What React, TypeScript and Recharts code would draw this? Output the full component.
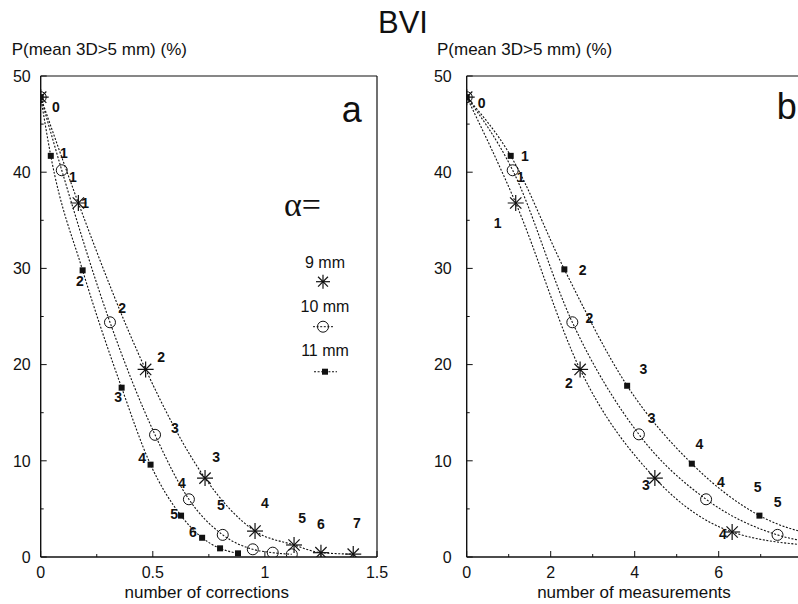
import React from 'react';
import { ComposedChart, Line, XAxis, YAxis, ReferenceLine } from 'recharts';

type Pt = { x: number; y: number };
type Lb = { x: number; y: number; t: string };

// ---------- panel a : number of corrections ----------
const corr9mm: Pt[] = [
  { x: 0, y: 47.8 }, { x: 0.168, y: 36.8 }, { x: 0.468, y: 19.5 }, { x: 0.733, y: 8.2 },
  { x: 0.956, y: 2.7 }, { x: 1.13, y: 1.25 }, { x: 1.25, y: 0.45 }, { x: 1.394, y: 0.3 },
];
const corr10mm: Pt[] = [
  { x: 0, y: 47.8 }, { x: 0.094, y: 40.2 }, { x: 0.309, y: 24.4 }, { x: 0.51, y: 12.7 },
  { x: 0.661, y: 6.0 }, { x: 0.812, y: 2.3 }, { x: 0.946, y: 0.8 }, { x: 1.035, y: 0.45 },
  { x: 1.12, y: 0.28 },
];
const corr11mm: Pt[] = [
  { x: 0, y: 47.8 }, { x: 0.045, y: 41.7 }, { x: 0.187, y: 29.8 }, { x: 0.361, y: 17.6 },
  { x: 0.49, y: 9.6 }, { x: 0.626, y: 4.3 }, { x: 0.72, y: 2.0 }, { x: 0.8, y: 0.9 },
  { x: 0.88, y: 0.38 },
];
const corrLabels: Lb[] = [
  { x: 0.068, y: 46.8, t: '0' },
  { x: 0.104, y: 42.0, t: '1' }, { x: 0.144, y: 39.5, t: '1' }, { x: 0.198, y: 36.8, t: '1' },
  { x: 0.175, y: 28.7, t: '2' }, { x: 0.363, y: 25.9, t: '2' }, { x: 0.537, y: 20.8, t: '2' },
  { x: 0.345, y: 16.6, t: '3' }, { x: 0.599, y: 13.4, t: '3' }, { x: 0.782, y: 10.4, t: '3' },
  { x: 0.452, y: 10.3, t: '4' }, { x: 0.63, y: 7.7, t: '4' }, { x: 1.0, y: 5.6, t: '4' },
  { x: 0.595, y: 4.5, t: '5' }, { x: 0.804, y: 5.4, t: '5' }, { x: 1.166, y: 4.05, t: '5' },
  { x: 0.679, y: 2.6, t: '6' }, { x: 1.25, y: 3.4, t: '6' },
  { x: 1.41, y: 3.5, t: '7' },
];
const corrTicks = [0, 0.25, 0.5, 0.75, 1, 1.25, 1.5];
const corrTickLabels = ['0', '', '0.5', '', '1', '', '1.5'];

// ---------- panel b : number of measurements ----------
const meas9mm: Pt[] = [
  { x: 0, y: 47.8 }, { x: 1.167, y: 36.8 }, { x: 2.7, y: 19.5 }, { x: 4.48, y: 8.2 },
  { x: 6.32, y: 2.6 }, { x: 8.2, y: 1.2 },
];
const meas10mm: Pt[] = [
  { x: 0, y: 47.8 }, { x: 1.095, y: 40.2 }, { x: 2.515, y: 24.4 }, { x: 4.1, y: 12.75 },
  { x: 5.7, y: 6.0 }, { x: 7.4, y: 2.3 }, { x: 9.0, y: 1.2 },
];
const meas11mm: Pt[] = [
  { x: 0, y: 47.8 }, { x: 1.048, y: 41.7 }, { x: 2.325, y: 29.9 }, { x: 3.82, y: 17.8 },
  { x: 5.36, y: 9.7 }, { x: 6.97, y: 4.3 }, { x: 8.6, y: 2.0 },
];
const measLabels: Lb[] = [
  { x: 0.357, y: 47.2, t: '0' },
  { x: 1.388, y: 41.7, t: '1' }, { x: 1.286, y: 39.5, t: '1' }, { x: 0.738, y: 34.7, t: '1' },
  { x: 2.762, y: 29.8, t: '2' }, { x: 2.919, y: 24.9, t: '2' }, { x: 2.436, y: 18.1, t: '2' },
  { x: 4.205, y: 19.5, t: '3' }, { x: 4.405, y: 14.5, t: '3' }, { x: 4.269, y: 7.5, t: '3' },
  { x: 5.538, y: 11.8, t: '4' }, { x: 6.055, y: 7.8, t: '4' }, { x: 6.102, y: 2.4, t: '4' },
  { x: 6.929, y: 7.3, t: '5' }, { x: 7.405, y: 5.7, t: '5' },
];
const measTicks = [0, 1, 2, 3, 4, 5, 6, 7, 8];
const measTickLabels = ['0', '', '2', '', '4', '', '6', '', ''];

const yTicks = [0, 5, 10, 15, 20, 25, 30, 35, 40, 45, 50];
const yTickLabels = ['0', '', '10', '', '20', '', '30', '', '40', '', '50'];

const legendNames = ['9 mm', '10 mm', '11 mm'];
const titleText = 'BVI';
const yTitle = 'P(mean 3D>5 mm) (%)';

const FONT = "'Liberation Sans', Arial, Helvetica, sans-serif";
const INK = '#111';

const Star = ({ cx, cy, r = 8 }: { cx: number; cy: number; r?: number }) => {
  const d = r * 0.7071;
  return (
    <g stroke={INK} strokeWidth={1.2}>
      <line x1={cx - r} y1={cy} x2={cx + r} y2={cy} />
      <line x1={cx} y1={cy - r} x2={cx} y2={cy + r} />
      <line x1={cx - d} y1={cy - d} x2={cx + d} y2={cy + d} />
      <line x1={cx - d} y1={cy + d} x2={cx + d} y2={cy - d} />
    </g>
  );
};

const starDot = (p: any) =>
  p.cx == null ? <g key={`s${p.index}`} /> : <g key={`s${p.index}`}><Star cx={p.cx} cy={p.cy} /></g>;
const circleDot = (p: any) =>
  p.cx == null ? <g key={`c${p.index}`} /> : (
    <circle key={`c${p.index}`} cx={p.cx} cy={p.cy} r={5.5} fill="none" stroke={INK} strokeWidth={1} />
  );
const squareDot = (p: any) =>
  p.cx == null ? <g key={`q${p.index}`} /> : (
    <rect key={`q${p.index}`} x={p.cx - 3} y={p.cy - 3} width={6} height={6} fill={INK} />
  );
const labelDot = (p: any) =>
  p.cx == null ? <g key={`l${p.index}`} /> : (
    <text key={`l${p.index}`} x={p.cx} y={p.cy} dy="0.36em" textAnchor="middle" fontSize={14}
      fontWeight="bold" fontFamily={FONT} fill={INK}>{p.payload.t}</text>
  );

const makeXTick = (ticks: number[], labels: string[]) => (props: any) => {
  const { x, y, payload } = props;
  const i = ticks.indexOf(payload.value);
  const lab = i >= 0 ? labels[i] : '';
  const major = lab !== '' || payload.value % 2 === 0;
  return (
    <g>
      <line x1={x} y1={y} x2={x} y2={y - (major ? 6 : 3)} stroke={INK} strokeWidth={1} />
      {lab !== '' && (
        <text x={x} y={y + 21} textAnchor="middle" fontSize={16} fontFamily={FONT} fill={INK}>{lab}</text>
      )}
    </g>
  );
};

const makeYTick = (gap: number) => (props: any) => {
  const { x, y, payload } = props;
  const i = yTicks.indexOf(payload.value);
  const lab = i >= 0 ? yTickLabels[i] : '';
  const major = lab !== '';
  return (
    <g>
      <line x1={x} y1={y} x2={x + (major ? 6 : 3)} y2={y} stroke={INK} strokeWidth={1} />
      {major && (
        <text x={x - gap} y={y} dy="0.36em" textAnchor="end" fontSize={16} fontFamily={FONT} fill={INK}>{lab}</text>
      )}
    </g>
  );
};

const dash = '2 1.6';

type PanelProps = {
  left: number;
  width: number;
  margin: { top: number; right: number; bottom: number; left: number };
  domain: [number, number];
  ticks: number[];
  tickLabels: string[];
  s9: Pt[];
  s10: Pt[];
  s11: Pt[];
  labels: Lb[];
  yGap: number;
  frameRight: boolean;
};

function Panel(p: PanelProps) {
  return (
    <div style={{ position: 'absolute', left: p.left, top: 0, width: p.width, height: 604 }}>
      <ComposedChart width={p.width} height={604} margin={p.margin}>
        <XAxis type="number" dataKey="x" domain={p.domain} ticks={p.ticks} interval={0}
          allowDataOverflow tickSize={0} tickMargin={0} tickLine={false} height={30}
          axisLine={{ stroke: INK, strokeWidth: 1.4 }} tick={makeXTick(p.ticks, p.tickLabels)} />
        <YAxis type="number" domain={[0, 50]} ticks={yTicks} interval={0} allowDataOverflow
          width={32.7} tickSize={0} tickMargin={0} tickLine={false}
          axisLine={{ stroke: INK, strokeWidth: 1.4 }} tick={makeYTick(p.yGap)} />
        <ReferenceLine y={50} stroke={INK} strokeWidth={1.2} ifOverflow="visible" />
        {p.frameRight && <ReferenceLine x={p.domain[1]} stroke={INK} strokeWidth={1.2} ifOverflow="visible" />}
        <Line type="monotone" data={p.s9} dataKey="y" stroke={INK} strokeWidth={1.1} strokeDasharray={dash}
          dot={starDot} activeDot={false} isAnimationActive={false} legendType="none" />
        <Line type="monotone" data={p.s10} dataKey="y" stroke={INK} strokeWidth={1.1} strokeDasharray={dash}
          dot={circleDot} activeDot={false} isAnimationActive={false} legendType="none" />
        <Line type="monotone" data={p.s11} dataKey="y" stroke={INK} strokeWidth={1.1} strokeDasharray={dash}
          dot={squareDot} activeDot={false} isAnimationActive={false} legendType="none" />
        <Line data={p.labels} dataKey="y" stroke="none" dot={labelDot} activeDot={false}
          isAnimationActive={false} legendType="none" />
      </ComposedChart>
    </div>
  );
}

export default function App() {
  return (
    <div style={{ position: 'absolute', left: 0, top: 0, width: 798, height: 604, overflow: 'hidden', background: '#fff' }}>
      <Panel left={0} width={400} margin={{ top: 76, right: 23, bottom: 17, left: 8 }}
        domain={[0, 1.5]} ticks={corrTicks} tickLabels={corrTickLabels}
        s9={corr9mm} s10={corr10mm} s11={corr11mm} labels={corrLabels} yGap={10} frameRight />
      <Panel left={400} width={420} margin={{ top: 76, right: 17.3, bottom: 17, left: 34 }}
        domain={[0, 8]} ticks={measTicks} tickLabels={measTickLabels}
        s9={meas9mm} s10={meas10mm} s11={meas11mm} labels={measLabels} yGap={15} frameRight={false} />
      <svg width={798} height={604} style={{ position: 'absolute', left: 0, top: 0, pointerEvents: 'none' }}>
        <g fontFamily={FONT} fill={INK}>
          <text x={403} y={33} fontSize={31} textAnchor="middle">{titleText}</text>
          <text x={11.7} y={55} fontSize={17}>{yTitle}</text>
          <text x={437} y={55} fontSize={17}>{yTitle}</text>
          <text x={341.7} y={121.7} fontSize={36}>a</text>
          <text x={776.7} y={119} fontSize={36}>b</text>
          <text x={206.7} y={598} fontSize={17} textAnchor="middle">number of corrections</text>
          <text x={634} y={598} fontSize={17} textAnchor="middle">number of measurements</text>
          <text x={284} y={216} fontSize={34} fontFamily="'Liberation Serif', 'DejaVu Serif', serif">α=</text>
          <text x={325} y={268} fontSize={16} textAnchor="middle">{legendNames[0]}</text>
          <text x={325} y={312} fontSize={16} textAnchor="middle">{legendNames[1]}</text>
          <text x={325} y={355.5} fontSize={16} textAnchor="middle">{legendNames[2]}</text>
        </g>
        <Star cx={323} cy={281.7} r={7} />
        <line x1={313} y1={326.7} x2={333} y2={326.7} stroke={INK} strokeWidth={1} strokeDasharray="2 1.6" />
        <circle cx={323} cy={326.7} r={5.5} fill="none" stroke={INK} strokeWidth={1} />
        <line x1={314} y1={371.7} x2={337} y2={371.7} stroke={INK} strokeWidth={1.1} strokeDasharray="2 1.6" />
        <rect x={322} y={368.7} width={6} height={6} fill={INK} />
      </svg>
    </div>
  );
}
